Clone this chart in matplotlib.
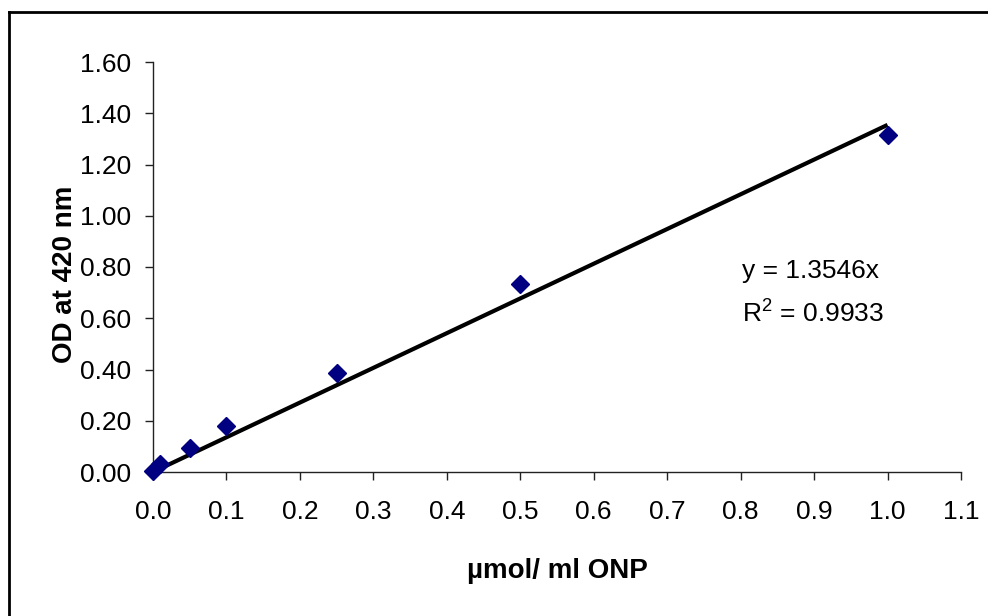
import matplotlib.pyplot as plt
from matplotlib.lines import Line2D

plt.rcParams['font.family'] = ['Liberation Sans', 'DejaVu Sans']
plt.rcParams['mathtext.fontset'] = 'custom'
plt.rcParams['mathtext.rm'] = 'Liberation Sans'

# ONP standard curve readings
onp_conc = [0.0, 0.01, 0.05, 0.1, 0.25, 0.5, 1.0]
od_420 = [0.005, 0.03, 0.095, 0.18, 0.385, 0.735, 1.315]

# linear fit through the origin
slope = 1.3546
r_squared = 0.9933
fit_x = [0.0, 1.0]
fit_y = [slope * x for x in fit_x]

x_ticks = [0.0, 0.1, 0.2, 0.3, 0.4, 0.5, 0.6, 0.7, 0.8, 0.9, 1.0, 1.1]
y_ticks = [0.0, 0.2, 0.4, 0.6, 0.8, 1.0, 1.2, 1.4, 1.6]

fig = plt.figure(figsize=(9.88, 6.16), dpi=100)
ax = fig.add_axes([153 / 988, 1 - 472 / 616, 808 / 988, 410 / 616])

ax.plot(fit_x, fit_y, color='black', linewidth=3, solid_capstyle='butt', zorder=2)
ax.plot(onp_conc, od_420, linestyle='none', marker='D', markersize=9,
        color='#000080', zorder=3, clip_on=False)

ax.set_xlim(0, 1.1)
ax.set_ylim(0, 1.6)
ax.set_xticks(x_ticks)
ax.set_xticklabels([f'{t:.1f}' for t in x_ticks])
ax.set_yticks(y_ticks)
ax.set_yticklabels([f'{t:.2f}' for t in y_ticks])

for side in ['top', 'right']:
    ax.spines[side].set_visible(False)
for side in ['left', 'bottom']:
    ax.spines[side].set_linewidth(1.0)
    ax.spines[side].set_color('#222222')
ax.tick_params(direction='out', length=6, width=1, labelsize=19, color='#222222')
ax.tick_params(axis='x', pad=14)
ax.tick_params(axis='y', pad=10)

ax.set_xlabel('µmol/ ml ONP', fontsize=20, fontweight='bold')
ax.set_ylabel('OD at 420 nm', fontsize=20, fontweight='bold')
ax.xaxis.set_label_coords(557 / 988, 1 - 571 / 616, transform=fig.transFigure)
ax.yaxis.set_label_coords(65 / 988, 1 - 274 / 616, transform=fig.transFigure)
ax.xaxis.label.set_va('center')
ax.yaxis.label.set_va('center')

ax.text(0.802, 0.758, f'y = {slope}x', fontsize=19, va='baseline', ha='left')
ax.text(0.802, 0.586, f'R$^2$ = {r_squared}', fontsize=19, va='baseline', ha='left')

# chart frame (only left and top edges fall inside the image)
fig.add_artist(Line2D([9 / 988, 9 / 988], [1 - 12 / 616, -0.1],
                      transform=fig.transFigure, color='black', linewidth=2))
fig.add_artist(Line2D([9 / 988, 1.1], [1 - 12 / 616, 1 - 12 / 616],
                      transform=fig.transFigure, color='black', linewidth=2))

fig.savefig('out.png', dpi=100)
